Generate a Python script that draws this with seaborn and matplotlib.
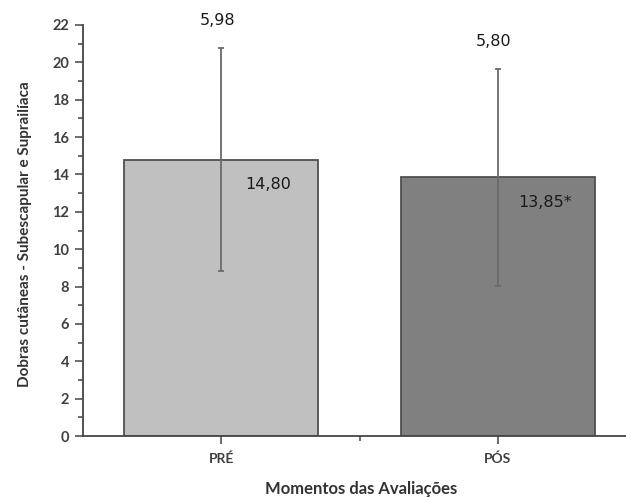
import matplotlib
matplotlib.use("Agg")
import matplotlib.pyplot as plt
import seaborn as sns
import numpy as np
from matplotlib.ticker import MultipleLocator, FixedLocator

categories = ["PRÉ", "PÓS"]
means = [14.80, 13.85]
sds = [5.98, 5.80]
mean_labels = ["14,80", "13,85*"]
sd_labels = ["5,98", "5,80"]
bar_colors = ["#c0c0c0", "#808080"]

sns.set_style("white")
plt.rcParams['font.family'] = ['DejaVu Sans']

fig = plt.figure(figsize=(6.26, 4.97), dpi=100)
ax = fig.add_axes([0.1326, 0.1227, 0.8834, 0.827])

sns.barplot(x=categories, y=means, hue=categories, palette=bar_colors,
            width=0.70, edgecolor="#505050", linewidth=1.3, errorbar=None,
            legend=False, ax=ax, saturation=1)

xpos = np.arange(len(categories))
ax.errorbar(xpos, means, yerr=sds, fmt="none", ecolor="#6a6a6a",
            elinewidth=1.3, capsize=2, capthick=1.3, zorder=5)

for i in range(len(categories)):
    ax.text(xpos[i] + 0.17, means[i] - 1.35, mean_labels[i], ha="center",
            va="center", fontsize=11.5, color="#1a1a1a")
    ax.text(xpos[i] - 0.015, means[i] + sds[i] + 1.45, sd_labels[i],
            ha="center", va="center", fontsize=11.5, color="#1a1a1a",
            clip_on=False)

ax.set_xlim(-0.5, 1.5)
ax.set_ylim(0, 22)
ax.yaxis.set_major_locator(MultipleLocator(2))
ax.yaxis.set_minor_locator(MultipleLocator(1))
ax.xaxis.set_major_locator(FixedLocator(xpos))
ax.xaxis.set_minor_locator(FixedLocator([0.5]))
ax.set_xticks(xpos)
ax.set_xticklabels(categories)

for s in ["top", "right"]:
    ax.spines[s].set_visible(False)
for s in ["left", "bottom"]:
    ax.spines[s].set_color("#444444")
    ax.spines[s].set_linewidth(1.3)

ax.tick_params(axis="both", which="major", direction="out", length=6,
               width=1.1, color="#444444", labelcolor="#404040",
               left=True, bottom=True)
ax.tick_params(axis="both", which="minor", direction="out", length=3.5,
               width=1.1, color="#444444", left=True, bottom=True)
ax.tick_params(axis="y", which="major", pad=4, labelsize=10.5)
ax.tick_params(axis="x", which="major", pad=6, labelsize=10)
for lab in ax.get_yticklabels() + ax.get_xticklabels():
    lab.set_fontweight("bold")
    lab.set_family("Lato")

ax.set_ylabel("Dobras cutâneas - Subescapular e Suprailíaca", fontsize=11,
              fontweight="bold", family="Lato", color="#333333")
ax.set_xlabel("Momentos das Avaliações", fontsize=12, fontweight="bold",
              family="Lato", color="#333333")
ax.yaxis.label.set_va("center")
ax.xaxis.label.set_va("center")
ax.yaxis.set_label_coords(-0.105, 0.49)
ax.xaxis.set_label_coords(0.503, -0.129)

fig.savefig("out.png", dpi=100)
